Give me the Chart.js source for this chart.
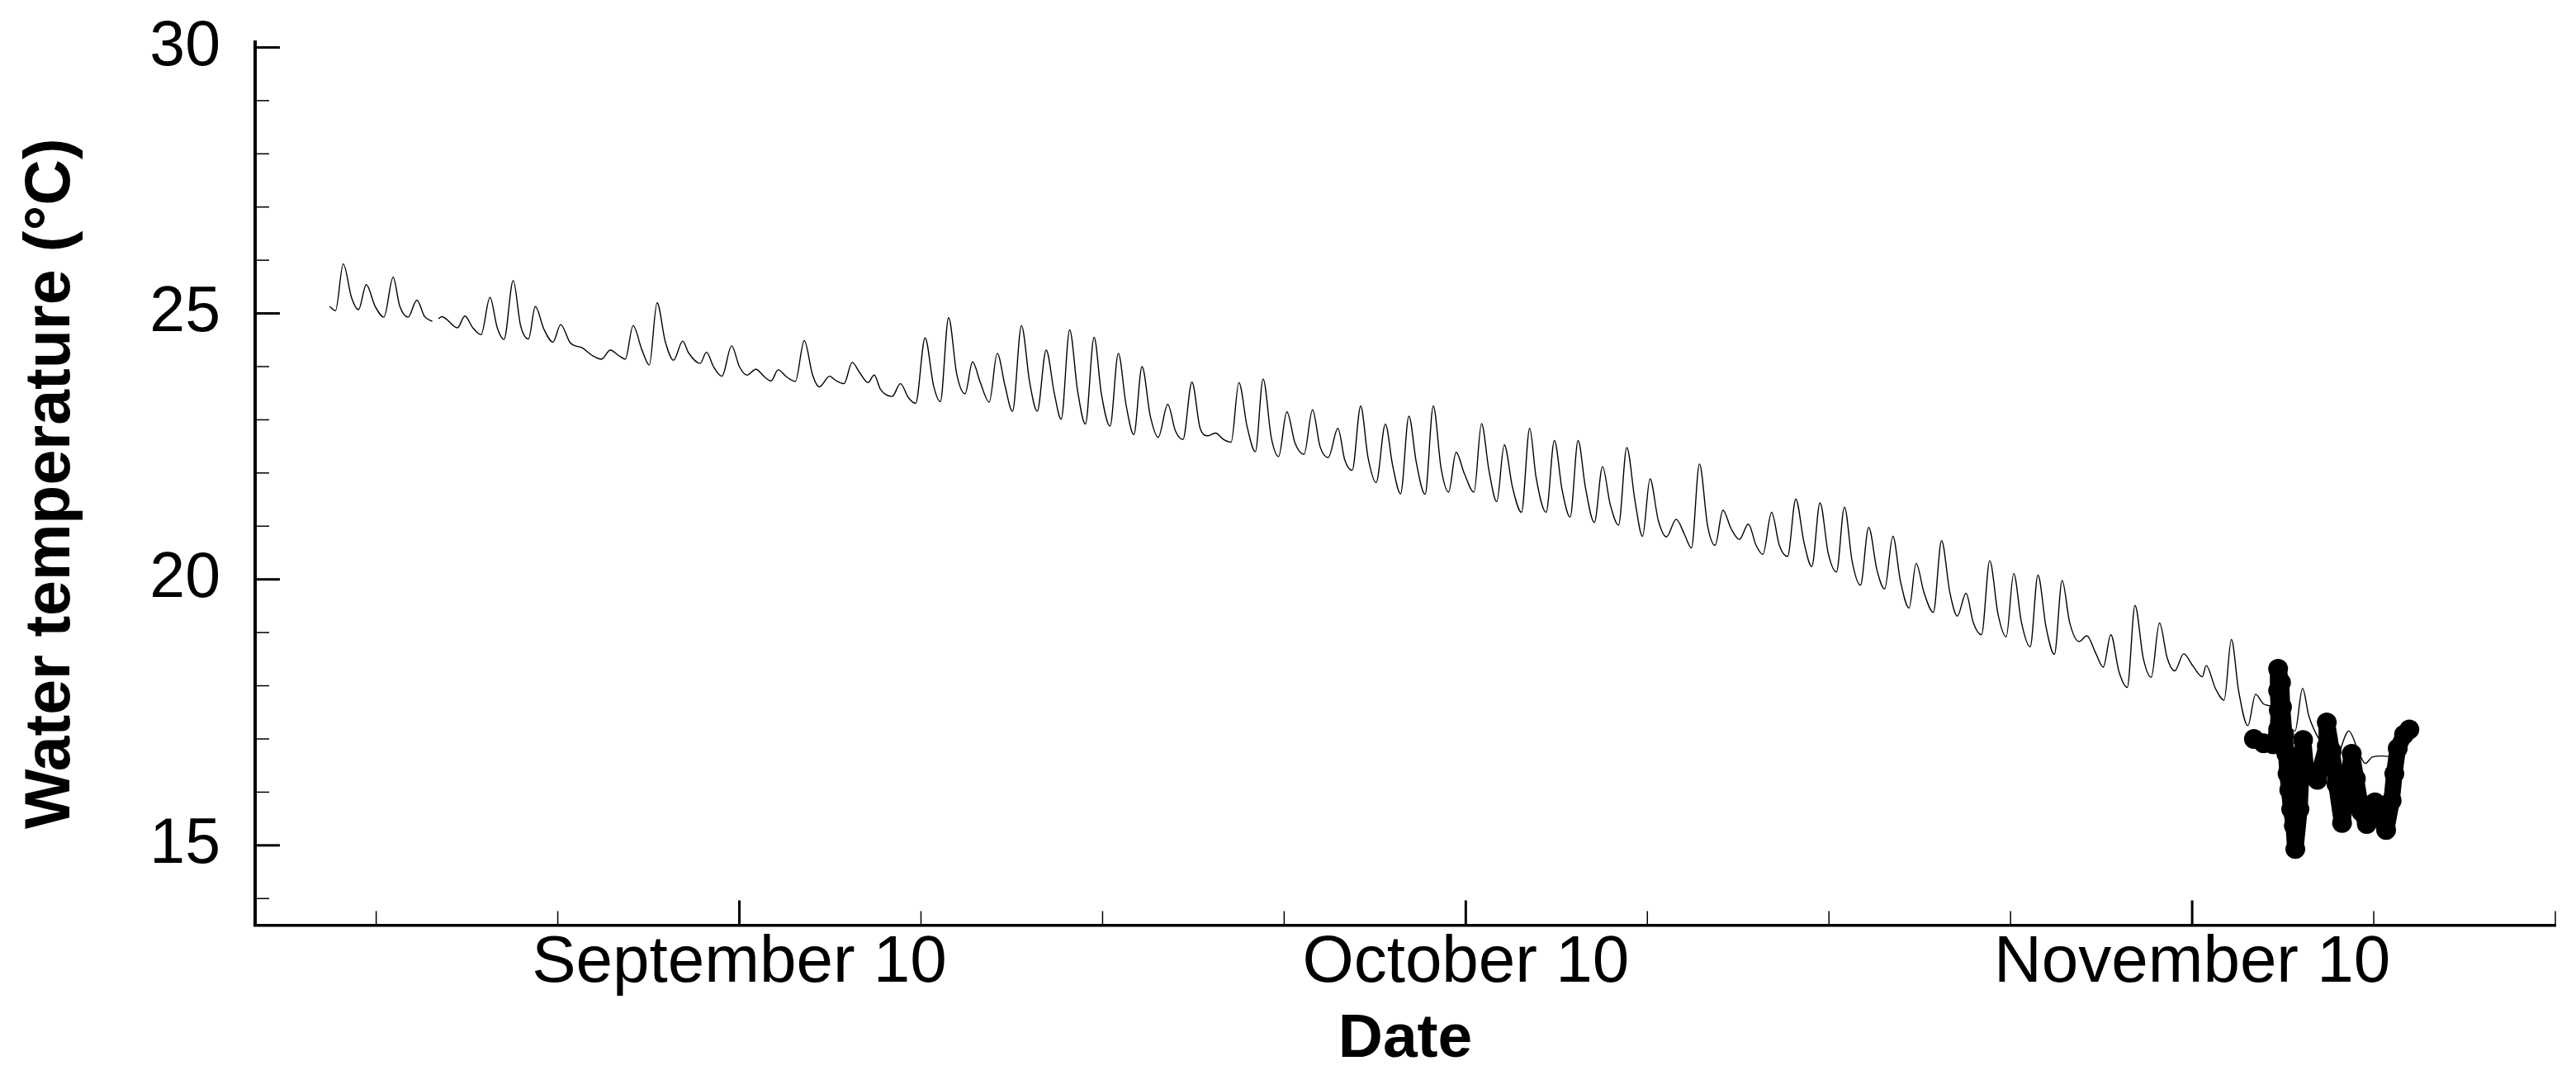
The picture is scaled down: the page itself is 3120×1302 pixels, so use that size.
<!DOCTYPE html>
<html><head><meta charset="utf-8">
<style>html,body{margin:0;padding:0;background:#fff;} #wrap{width:3120px;height:1302px;}</style>
<script src="https://cdn.jsdelivr.net/npm/chart.js@4.4.1/dist/chart.umd.min.js"></script>
</head><body><div id="wrap"><canvas id="c" width="3120" height="1302"></canvas></div>
<script>
// x values are day numbers (September 10 = 253, October 10 = 283, November 10 = 313 on the axis)
const lineDays = [236.08,236.32,236.64,236.98,237.27,237.59,237.95,238.32,238.70,238.97,239.32,239.68,240.00,240.32,240.45,240.57,240.71,241.36,241.66,241.99,242.33,242.70,243.00,243.28,243.66,243.96,244.29,244.57,244.93,245.30,245.62,246.01,246.52,246.92,247.30,247.67,248.01,248.29,248.61,248.97,249.28,249.60,249.94,250.28,
250.66,250.90,251.38,251.64,251.93,252.28,252.68,253.00,253.31,253.68,254.03,254.31,254.60,254.94,255.31,255.68,256.02,256.30,256.73,256.98,257.32,257.66,257.95,258.31,258.57,258.83,259.31,259.65,259.99,260.28,260.67,261.02,261.30,261.64,261.98,262.32,262.63,262.95,263.32,263.65,263.97,264.28,264.65,264.99,265.30,265.67,266.01,266.29,266.64,266.97,267.29,267.65,267.95,268.31,
268.65,268.97,269.29,269.63,269.97,270.30,270.69,271.01,271.32,271.69,272.03,272.35,272.66,273.00,273.31,273.63,273.97,274.31,274.63,274.97,275.27,275.61,275.95,276.32,276.67,276.98,277.32,277.72,278.00,278.31,278.66,278.96,279.30,279.68,279.98,280.31,280.65,280.96,281.32,281.66,281.98,282.29,282.60,282.94,283.34,283.65,283.96,284.28,284.59,284.93,285.30,285.64,285.90,
286.32,286.66,286.98,287.31,287.64,287.94,288.31,288.65,288.96,289.31,289.65,289.99,290.30,290.61,290.95,291.29,291.69,292.03,292.32,292.65,292.99,293.30,293.62,293.96,294.30,294.67,294.99,295.27,295.63,295.95,296.29,296.63,296.97,297.29,297.63,297.97,298.31,298.64,298.96,299.30,299.64,299.98,300.30,300.64,300.95,301.31,301.60,301.92,302.31,302.65,302.99,303.30,
303.66,303.96,304.30,304.64,304.98,305.32,305.63,305.95,306.31,306.63,306.97,307.31,307.63,307.94,308.33,308.65,309.01,309.33,309.64,309.98,310.32,310.64,310.98,311.31,311.65,311.97,312.28,312.65,313.05,313.42,313.58,313.96,314.32,314.62,314.92,315.30,315.62,315.94,316.28,316.90,317.25,317.56,317.82,318.30,318.90,319.47,319.87,320.15,320.44,320.84,321.75];
const lineTemps = [25.13,25.05,25.93,25.30,25.07,25.54,25.14,24.93,25.68,25.14,24.93,25.25,24.94,24.85,null,24.90,24.94,24.73,24.95,24.73,24.60,25.30,24.73,24.51,25.62,24.78,24.52,25.13,24.70,24.46,24.79,24.45,24.35,24.21,24.14,24.31,24.21,24.14,24.77,24.32,24.03,25.20,24.47,24.12,
24.48,24.26,24.06,24.27,24.00,23.82,24.39,24.00,23.84,23.95,23.81,23.73,23.94,23.81,23.72,24.49,23.85,23.62,23.82,23.74,23.68,24.08,23.90,23.70,23.84,23.57,23.44,23.68,23.41,23.31,24.54,23.64,23.34,24.92,23.85,23.49,24.09,23.70,23.33,24.25,23.64,23.16,24.77,23.70,23.16,24.31,23.49,23.01,24.69,23.54,22.92,24.55,23.49,22.88,
24.25,23.28,22.72,24.00,23.07,22.67,23.29,22.79,22.63,23.71,22.84,22.70,22.75,22.63,22.58,23.70,22.87,22.40,23.77,22.66,22.31,23.15,22.56,22.35,23.19,22.50,22.29,22.84,22.25,22.05,23.26,22.30,21.82,22.92,22.14,21.61,23.07,22.19,21.60,23.26,22.09,21.64,22.39,21.99,21.64,22.93,22.04,21.46,22.53,21.73,21.26,22.84,21.93,
21.26,22.61,21.68,21.17,22.61,21.73,21.07,22.12,21.42,21.02,22.48,21.47,20.81,21.89,21.11,20.80,21.13,20.85,20.59,22.17,21.00,20.64,21.30,20.95,20.75,21.04,20.64,20.47,21.26,20.64,20.43,21.51,20.69,20.24,21.44,20.49,20.14,21.36,20.33,19.89,20.98,20.18,19.82,20.81,19.97,19.46,20.30,19.76,19.38,20.73,19.76,19.31,
19.74,19.19,18.96,20.35,19.35,18.92,20.11,19.19,18.73,20.08,19.09,18.59,19.98,19.19,18.83,18.94,18.62,18.35,18.96,18.26,17.97,19.51,18.52,18.16,19.18,18.52,18.28,18.60,18.36,18.17,18.38,17.95,17.73,18.87,17.90,17.25,17.84,17.66,17.61,17.30,17.15,17.95,17.43,16.95,16.62,17.15,16.76,16.54,16.66,16.68,16.63];

// observed values (large dots), read along the trail
const dotDays  = [315.55,315.95,316.35,316.55,316.58,316.55,316.55,316.67,316.71,316.80,316.89,316.94,317.01,317.09,317.20,317.26,317.43,317.49,317.58,317.71,318.17,318.56,318.56,318.76,318.96,319.19,319.39,319.59,319.76,319.99,320.21,320.55,320.78,321.01,321.24,321.35,321.49,321.75,321.97];
const dotTemps = [17.00,16.92,16.90,17.18,17.54,17.91,18.32,18.06,17.60,17.08,16.72,16.35,16.04,15.68,15.37,14.93,15.68,16.25,16.98,16.35,16.23,16.87,17.31,16.77,16.15,15.42,15.99,16.72,16.25,15.63,15.40,15.81,15.53,15.29,15.84,16.35,16.82,17.08,17.18];

const xTickDays = [253, 283, 313];
const xTickLabels = ['September 10', 'October 10', 'November 10'];
const xMinorDays = [238, 245.5, 260.5, 268, 275.5, 290.5, 298, 305.5, 320.5, 328];
const yTickValues = [15, 20, 25, 30];
const yMinorValues = [14, 16, 17, 18, 19, 21, 22, 23, 24, 26, 27, 28, 29];

const FONT = "'Liberation Sans', Arial, Helvetica, sans-serif";

const tickMarks = {
  id: 'tickMarks',
  afterDraw(chart) {
    const {ctx, chartArea, scales} = chart;
    const xs = scales.x, ys = scales.y;
    ctx.save();
    ctx.strokeStyle = '#000';
    ctx.lineCap = 'butt';
    const seg = (x1, y1, x2, y2, w) => { ctx.lineWidth = w; ctx.beginPath(); ctx.moveTo(x1, y1); ctx.lineTo(x2, y2); ctx.stroke(); };
    const b = chartArea.bottom, l = chartArea.left;
    xTickDays.forEach(v => { const p = xs.getPixelForValue(v); seg(p, b, p, b - 30, 3); });
    xMinorDays.forEach(v => { const p = xs.getPixelForValue(v); seg(p, b, p, b - 17, 1.5); });
    yTickValues.forEach(v => { const p = ys.getPixelForValue(v); seg(l, p, l + 30, p, 3); });
    yMinorValues.forEach(v => { const p = ys.getPixelForValue(v); seg(l, p, l + 17, p, 1.5); });
    ctx.restore();
  }
};

new Chart(document.getElementById('c'), {
  type: 'scatter',
  data: {
    datasets: [
      {
        label: 'Model',
        data: lineDays.map((d, i) => ({x: d, y: lineTemps[i]})),
        showLine: true,
        spanGaps: false,
        borderColor: '#000',
        borderWidth: 1.4,
        pointRadius: 0,
        cubicInterpolationMode: 'monotone',
        order: 2
      },
      {
        label: 'Observed',
        data: dotDays.map((d, i) => ({x: d, y: dotTemps[i]})),
        showLine: true,
        borderColor: '#000',
        borderWidth: 20,
        borderCapStyle: 'round',
        borderJoinStyle: 'round',
        pointRadius: 12,
        pointBackgroundColor: '#000',
        pointBorderWidth: 0,
        tension: 0,
        order: 1
      }
    ]
  },
  options: {
    responsive: false,
    animation: false,
    devicePixelRatio: 1,
    layout: {padding: {top: 51, right: 25, left: 0, bottom: 0}},
    plugins: {legend: {display: false}, tooltip: {enabled: false}},
    scales: {
      x: {
        type: 'linear',
        min: 233, max: 328,
        grid: {display: false, drawTicks: false},
        border: {display: true, color: '#000', width: 3.5},
        afterBuildTicks: s => { s.ticks = xTickDays.map(v => ({value: v})); },
        afterFit: s => { s.height = 181.5; s.paddingLeft = 0; s.paddingRight = 0; },
        ticks: {
          autoSkip: false, maxRotation: 0, color: '#000', padding: 6,
          font: {family: FONT, size: 80, lineHeight: 1},
          callback: v => { const i = xTickDays.indexOf(v); return i >= 0 ? xTickLabels[i] : ''; }
        },
        title: {display: true, text: 'Date', color: '#000', padding: {top: 0, bottom: 5},
          font: {family: FONT, size: 75, weight: 'bold', lineHeight: 1}}
      },
      y: {
        type: 'linear',
        min: 13.5, max: 30.1,
        grid: {display: false, drawTicks: false},
        border: {display: true, color: '#000', width: 4},
        afterBuildTicks: s => { s.ticks = yTickValues.map(v => ({value: v})); },
        afterFit: s => { s.width = 309; s.paddingTop = 0; s.paddingBottom = 0; },
        ticks: {color: '#000', padding: 42, font: {family: FONT, size: 77, lineHeight: 1}, callback: v => String(v)},
        title: {display: true, text: 'Water temperature (°C)', color: '#000', padding: {top: 24, bottom: 0},
          font: {family: FONT, size: 77, weight: 'bold', lineHeight: 1}}
      }
    }
  },
  plugins: [tickMarks]
});
</script></body></html>
